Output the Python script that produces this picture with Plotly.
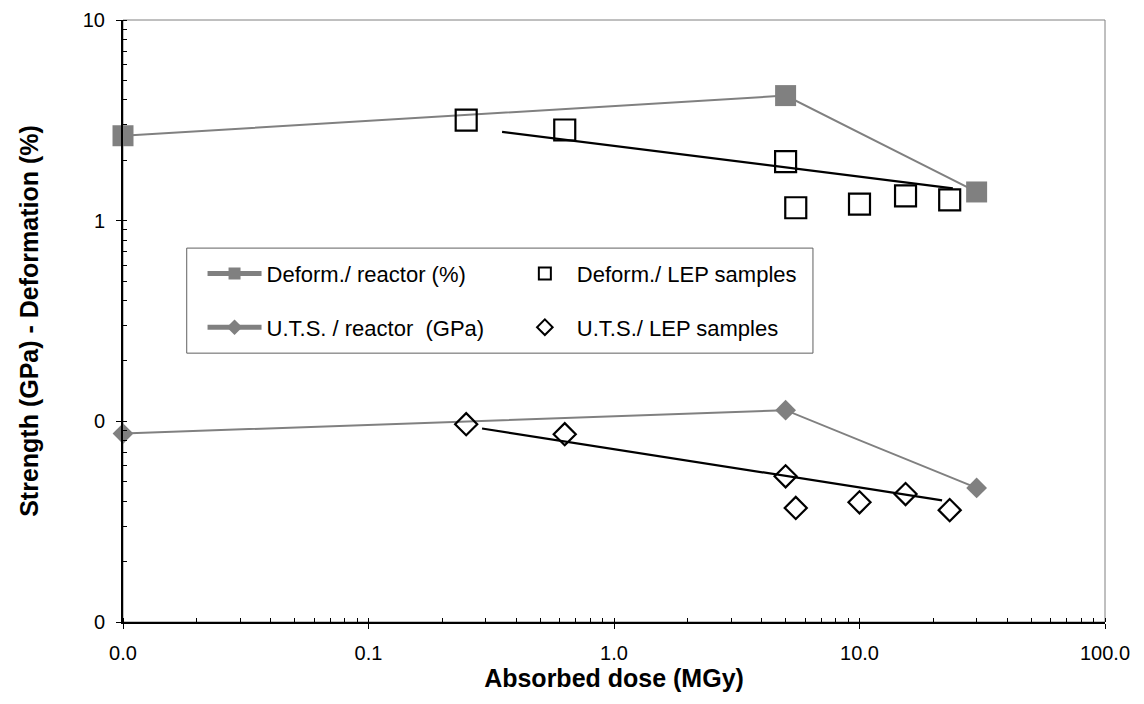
import plotly.graph_objects as go

# Absorbed dose (MGy) for the reactor-irradiated series
reactor_dose = [0.01, 5.0, 30.0]
deform_reactor = [2.65, 4.2, 1.39]
uts_reactor = [0.0869, 0.1137, 0.0466]

# Absorbed dose (MGy) for the LEP samples
lep_dose = [0.25, 0.63, 5.0, 5.5, 10.0, 15.4, 23.3]
deform_lep = [3.17, 2.83, 1.97, 1.16, 1.21, 1.33, 1.27]
uts_lep = [0.0968, 0.0863, 0.0532, 0.0370, 0.0395, 0.0434, 0.0361]

# Trend lines through the LEP samples
deform_trend_dose = [0.35, 24.0]
deform_trend = [2.77, 1.45]
uts_trend_dose = [0.29, 21.7]
uts_trend = [0.0921, 0.0404]

FONT = "Liberation Sans, Arial, sans-serif"
GREY = "#808080"
X_RANGE = [-2, 2]
Y_RANGE = [-2, 1]

fig = go.Figure()

fig.add_trace(go.Scatter(
    x=reactor_dose, y=deform_reactor, mode="lines+markers",
    name="Deform./ reactor (%)", legend="legend", legendgroup="a",
    line=dict(color=GREY, width=2),
    marker=dict(symbol="square", size=21, color=GREY),
    cliponaxis=False,
))
fig.add_trace(go.Scatter(
    x=reactor_dose, y=uts_reactor, mode="lines+markers",
    name="U.T.S. / reactor  (GPa)", legend="legend", legendgroup="b",
    line=dict(color=GREY, width=2),
    marker=dict(symbol="diamond", size=16, color=GREY),
    cliponaxis=False,
))
fig.add_trace(go.Scatter(
    x=deform_trend_dose, y=deform_trend, mode="lines",
    line=dict(color="black", width=2.2), showlegend=False, hoverinfo="skip",
))
fig.add_trace(go.Scatter(
    x=uts_trend_dose, y=uts_trend, mode="lines",
    line=dict(color="black", width=2.2), showlegend=False, hoverinfo="skip",
))
fig.add_trace(go.Scatter(
    x=lep_dose, y=deform_lep, mode="markers",
    name="Deform./ LEP samples", legend="legend2", legendgroup="c",
    marker=dict(symbol="square-open", size=21, color="black",
                line=dict(width=2.2, color="black")),
    cliponaxis=False,
))
fig.add_trace(go.Scatter(
    x=lep_dose, y=uts_lep, mode="markers",
    name="U.T.S./ LEP samples", legend="legend2", legendgroup="d",
    marker=dict(symbol="diamond-open", size=17, color="black",
                line=dict(width=2.2, color="black")),
    cliponaxis=False,
))

axis_common = dict(
    type="log",
    automargin=False,
    showline=True, linecolor="black", linewidth=2,
    ticks="outside", ticklen=5, tickwidth=1, tickcolor="black",
    dtick=1,
    showgrid=False, zeroline=False,
    tickfont=dict(family=FONT, size=20, color="black"),
    minor=dict(ticks="inside", ticklen=4, tickwidth=1, tickcolor="black",
               dtick="D1", showgrid=False),
)

# overlay axes that only add the inner half of the major ticks,
# so the decade ticks cross the axis lines
cross_ticks = dict(
    type="log", automargin=False, dtick=1,
    ticks="inside", ticklen=5, tickwidth=1, tickcolor="black",
    showticklabels=False, showgrid=False, zeroline=False, showline=False,
)

fig.update_layout(
    xaxis=dict(
        **axis_common,
        range=X_RANGE,
        tickformat=".1f",
        ticklabelstandoff=7,
        title=dict(text="<b>Absorbed dose (MGy)</b>", standoff=4,
                   font=dict(family=FONT, size=25, color="black")),
    ),
    yaxis=dict(
        **axis_common,
        range=Y_RANGE,
        tickformat=".0f",
        ticklabelstandoff=7,
        title=dict(text="<b>Strength (GPa) - Deformation (%)</b>", standoff=37,
                   font=dict(family=FONT, size=25, color="black")),
    ),
    xaxis2=dict(**cross_ticks, range=X_RANGE, overlaying="x", anchor="y",
                side="bottom"),
    yaxis2=dict(**cross_ticks, range=Y_RANGE, overlaying="y", anchor="x",
                side="left"),
)

legend_common = dict(
    orientation="v", xanchor="left", yanchor="top",
    bgcolor="rgba(0,0,0,0)", borderwidth=0,
    font=dict(family=FONT, size=22, color="black"),
    itemsizing="constant", itemwidth=54, tracegroupgap=22,
)

fig.update_layout(
    width=1144, height=704,
    margin=dict(l=123, r=39, t=20, b=82, autoexpand=False),
    paper_bgcolor="white", plot_bgcolor="white",
    font=dict(family=FONT, color="black"),
    legend=dict(**legend_common, x=0.081, y=0.6133),
    legend2=dict(**legend_common, x=0.397, y=0.6133),
    shapes=[
        # plot area frame
        dict(type="rect", xref="paper", yref="paper", x0=0, x1=1, y0=0, y1=1,
             line=dict(color=GREY, width=1), layer="below"),
        # legend frame
        dict(type="rect", xref="paper", yref="paper",
             x0=0.0649, x1=0.7026, y0=0.4466, y1=0.6211,
             line=dict(color="#606060", width=1), fillcolor="white",
             layer="below"),
    ],
)

fig.write_html("out.html")
